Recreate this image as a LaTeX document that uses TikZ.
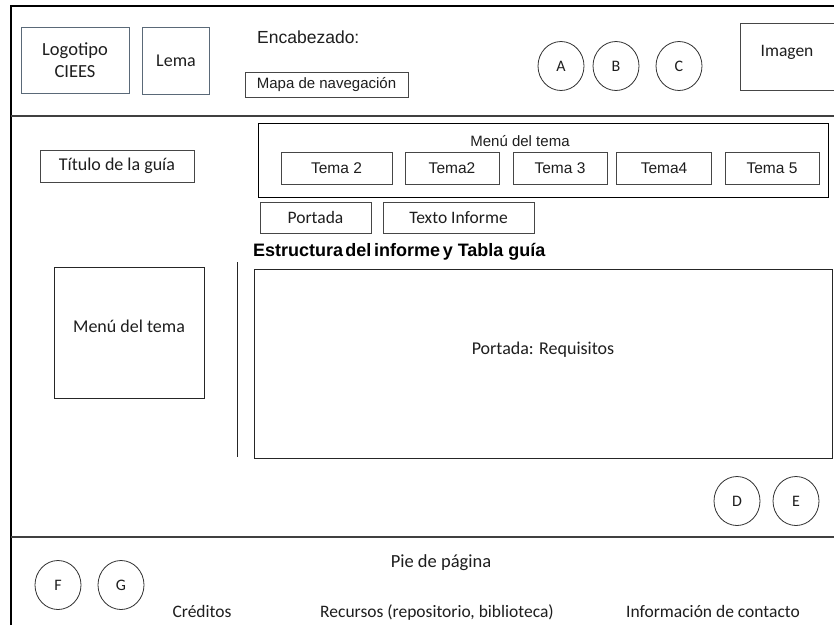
\documentclass[tikz,border=0pt]{standalone}
\usepackage{fontspec}
\setmainfont{Carlito}
\newfontfamily\arial{Liberation Sans}
\usetikzlibrary{shapes.geometric}
\definecolor{logoedge}{RGB}{90,105,120}
\definecolor{boxedge}{RGB}{70,70,70}
\definecolor{txt}{RGB}{30,30,30}
\tikzset{
  box/.style={draw=boxedge, line width=0.9pt, inner sep=0pt, text=txt},
  frameline/.style={line width=1.6pt, black},
  divline/.style={line width=1.2pt, black!75},
  oval/.style={draw=black!80, line width=0.8pt, ellipse, minimum width=46pt, minimum height=49pt, inner sep=0pt, text=txt},
  calib/.style={font=\fontsize{17.5}{20}\selectfont, text=txt},
  ar/.style={font=\arial\fontsize{15.5}{18}\selectfont, text=txt},
}
\begin{document}
\begin{tikzpicture}[x=1pt,y=-1pt]
\useasboundingbox (0,0) rectangle (834,625);
\fill[white] (0,0) rectangle (834,625);
% frame
\coordinate (fl) at (11,625);
\coordinate (ftl) at (11,6);
\coordinate (ftr) at (834,6);
\draw[frameline] (fl) -- (ftl) -- (ftr);
\coordinate (h1) at (11,116); \coordinate (h2) at (834,116);
\draw[divline] (h1) -- (h2);
\coordinate (p1) at (11,537); \coordinate (p2) at (834,537);
\draw[divline] (p1) -- (p2);
% header
\node[box, draw=logoedge, minimum width=108pt, minimum height=66pt, align=center, calib, font=\fontsize{18.5}{22}\selectfont] (logo) at (75,60) {Logotipo\\CIEES};
\node[box, draw=logoedge, minimum width=67pt, minimum height=67pt, calib, font=\fontsize{18}{21}\selectfont] (lema) at (176,61) {Lema};
\node[anchor=west, font=\arial\fontsize{17.5}{20}\selectfont, text=txt, inner sep=0pt] (enc) at (257,37) {Encabezado:};
\node[box, minimum width=163pt, minimum height=25pt, ar, font=\arial\fontsize{15}{18}\selectfont] (mapa) at (326.5,84.5) {Mapa de navegación};
\node[oval, calib, font=\fontsize{16}{19}\selectfont] (A) at (561,66) {A};
\node[oval, calib, font=\fontsize{16}{19}\selectfont] (B) at (616,66) {B};
\node[oval, calib, font=\fontsize{16}{19}\selectfont] (C) at (679,66) {C};
\node[box, minimum width=100pt, minimum height=67pt, anchor=north west] (img) at (740,23) {};
\node[calib, inner sep=0pt] (imgtxt) at (787,52) {Imagen};
% body
\node[box, minimum width=154pt, minimum height=32pt, calib, font=\fontsize{18}{21}\selectfont] (titulo) at (117,166) {Título de la guía};
\node[box, draw=black, minimum width=570pt, minimum height=74pt] (menu) at (543,160) {};
\node[ar, font=\arial\fontsize{15}{18}\selectfont, inner sep=0pt] (menutxt) at (520,141) {Menú del tema};
\node[box, minimum width=111pt, minimum height=32pt, ar] (t1) at (336.5,168) {Tema 2};
\node[box, minimum width=94pt, minimum height=32pt, ar] (t2) at (452,168) {Tema2};
\node[box, minimum width=94pt, minimum height=32pt, ar] (t3) at (560,168) {Tema 3};
\node[box, minimum width=95pt, minimum height=32pt, ar] (t4) at (664,168) {Tema4};
\node[box, minimum width=94pt, minimum height=32pt, ar] (t5) at (772,168) {Tema 5};
\node[box, minimum width=111pt, minimum height=31pt, calib] (portada) at (315.5,217.5) {Portada};
\node[box, minimum width=151pt, minimum height=31pt, calib] (texto) at (458.5,217.5) {Texto Informe};
\node[anchor=base west, inner sep=0pt, text=black, font=\arial\bfseries\fontsize{18}{21}\selectfont] (estr) at (253,256) {Estructura\hspace{0.12em}del\hspace{0.15em}informe\hspace{0.15em}y Tabla guía};
\node[box, draw=black!85, minimum width=150pt, minimum height=131pt, anchor=north west] (lmenu) at (54,267) {};
\node[calib, font=\fontsize{18}{21}\selectfont, inner sep=0pt] (lmenutxt) at (129,326) {Menú del tema};
\coordinate (v1) at (237,262); \coordinate (v2) at (237,457);
\draw[line width=1pt, black!85] (v1) -- (v2);
\node[box, draw=black!85, minimum width=578pt, minimum height=189pt, anchor=north west] (main) at (254,269) {};
\node[calib, font=\fontsize{18}{21}\selectfont, inner sep=0pt] (req) at (543,350) {Portada: Requisitos};
\node[oval, calib, font=\fontsize{16}{19}\selectfont] (D) at (737,501) {D};
\node[oval, calib, font=\fontsize{16}{19}\selectfont] (E) at (796,501) {E};
% footer
\node[calib, font=\fontsize{18.5}{22}\selectfont, inner sep=0pt] (pie) at (441,563) {Pie de página};
\node[oval, calib, font=\fontsize{16}{19}\selectfont] (F) at (58,585) {F};
\node[oval, calib, font=\fontsize{16}{19}\selectfont] (G) at (121,585) {G};
\node[calib, inner sep=0pt, anchor=base] (cred) at (202,617) {Créditos};
\node[calib, inner sep=0pt, anchor=base] (rec) at (437,617) {Recursos (repositorio, biblioteca)};
\node[calib, inner sep=0pt, anchor=base] (info) at (713,617) {Información de contacto};
\end{tikzpicture}
\end{document}
